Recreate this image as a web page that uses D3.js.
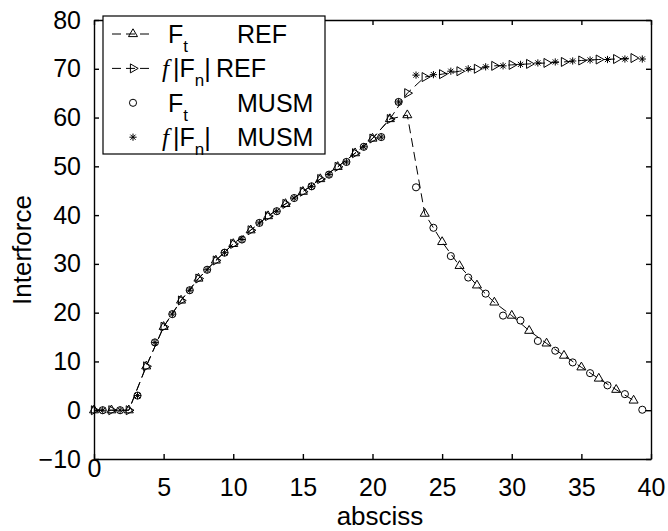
<!DOCTYPE html>
<html>
<head>
<meta charset="utf-8">
<script src="https://cdn.jsdelivr.net/npm/d3@7"></script>
<style>
body { margin: 0; background: #fff; }
text { font-family: "Liberation Sans", Arial, Helvetica, sans-serif; fill: #000; }
</style>
</head>
<body>
<script>
// REF solution (triangles, dashed line)
let refX = [0, 1.25, 2.5, 3.75, 5, 6.25, 7.5, 8.75, 10, 11.25, 12.5, 13.75, 15, 16.25, 17.5, 18.75,
    20, 21.25, 22.5, 23.75, 25, 26.25, 27.5, 28.75, 30, 31.25, 32.5, 33.75, 35, 36.25, 37.5, 38.75];
let refFt = [0, 0, 0, 9.0, 17.1, 22.5, 27.0, 30.7, 34.1, 36.9, 39.8, 42.3, 44.8, 47.4, 49.9, 52.7,
    55.7, 59.7, 60.5, 40.3, 34.5, 29.6, 25.6, 22.1, 19.4, 16.3, 13.7, 11.2, 8.8, 6.5, 4.2, 2.0];
let refFn = [0, 0, 0, 9.0, 17.1, 22.5, 27.0, 30.7, 34.1, 36.9, 39.8, 42.3, 44.8, 47.4, 49.9, 52.7,
    55.7, 59.7, 65.0, 68.3, 68.9, 69.5, 70.0, 70.6, 70.8, 71.0, 71.2, 71.4, 71.7, 71.9, 72.0, 72.2];

// MUSM solution (markers only)
let musmX = [0.625, 1.875, 3.125, 4.375, 5.625, 6.875, 8.125, 9.375, 10.625, 11.875, 13.125, 14.375,
    15.625, 16.875, 18.125, 19.375, 20.625, 21.875, 23.125, 24.375, 25.625, 26.875, 28.125, 29.375,
    30.625, 31.875, 33.125, 34.375, 35.625, 36.875, 38.125, 39.375];
let musmFt = [0, 0, 3.0, 13.9, 19.7, 24.6, 28.8, 32.3, 35.0, 38.4, 40.8, 43.5, 45.9, 48.3, 50.9, 54.0,
    56.0, 63.2, 45.7, 37.4, 31.6, 27.2, 23.9, 19.4, 18.4, 14.2, 12.2, 9.8, 7.6, 5.1, 3.3, 0.1];
let musmFn = [0, 0, 3.0, 13.9, 19.7, 24.6, 28.8, 32.3, 35.0, 38.4, 40.8, 43.5, 45.9, 48.3, 50.9, 54.0,
    56.0, 63.2, 68.7, 68.8, 69.5, 70.0, 70.4, 70.6, 70.9, 71.2, 71.4, 71.6, 71.8, 71.9, 72.0, 72.0];

let xTicks = [0, 5, 10, 15, 20, 25, 30, 35, 40];
let yTicks = [-10, 0, 10, 20, 30, 40, 50, 60, 70, 80];
let legendNames = ["F_t", "f|F_n|", "F_t", "f|F_n|"];
let legendMethods = ["REF", "REF", "MUSM", "MUSM"];

let svgContainer,
    svgWidth = 668,
    svgHeight = 531,
    plot = { left: 94, right: 651, top: 20, bottom: 459 },
    tickFont = 25,
    labelFont = 26;

let xScale = d3.scaleLinear().domain([0, 40]).range([plot.left, plot.right]);
let yScale = d3.scaleLinear().domain([-10, 80]).range([plot.bottom, plot.top]);

let triUp = d3.symbol().type(d3.symbolTriangle2).size(58);
let circ = d3.symbol().type(d3.symbolCircle).size(40);
let plus = d3.symbol().type(d3.symbolPlus).size(19);
let times = d3.symbol().type(d3.symbolTimes).size(19);

function init() {
    svgContainer = d3.select("body").append("svg")
        .attr("width", svgWidth)
        .attr("height", svgHeight);
    drawAxes();
    drawSeries(refX, refFt, true, "up");
    drawSeries(refX, refFn, true, "right");
    drawSeries(musmX, musmFt, false, "circle");
    drawSeries(musmX, musmFn, false, "star");
    drawLegend();
}

function drawAxes() {
    let bottom = svgContainer.append("g")
        .attr("class", "axis")
        .attr("transform", "translate(0," + plot.bottom + ")")
        .call(d3.axisBottom(xScale).tickValues(xTicks).tickSize(-5).tickSizeOuter(0).tickPadding(19));
    bottom.selectAll(".tick text").filter(d => d === 0).attr("y", 0);

    svgContainer.append("g")
        .attr("class", "axis")
        .attr("transform", "translate(" + plot.left + ",0)")
        .call(d3.axisLeft(yScale).tickValues(yTicks).tickSize(-5).tickSizeOuter(0).tickPadding(13));

    svgContainer.append("g")
        .attr("class", "axis")
        .attr("transform", "translate(0," + plot.top + ")")
        .call(d3.axisTop(xScale).tickValues(xTicks).tickSize(-5).tickSizeOuter(0).tickFormat(""));

    svgContainer.append("g")
        .attr("class", "axis")
        .attr("transform", "translate(" + plot.right + ",0)")
        .call(d3.axisRight(yScale).tickValues(yTicks).tickSize(-5).tickSizeOuter(0).tickFormat(""));

    svgContainer.selectAll(".axis path, .axis line")
        .attr("stroke", "#000")
        .attr("stroke-width", 1.4);
    svgContainer.selectAll(".axis text")
        .style("font-size", tickFont + "px")
        .style("font-family", "'Liberation Sans', Arial, sans-serif")
        .attr("fill", "#000");

    svgContainer.append("text")
        .attr("transform", "translate(31,250) rotate(-90)")
        .attr("text-anchor", "middle")
        .style("font-size", labelFont + "px")
        .text("Interforce");

    svgContainer.append("text")
        .attr("x", 380)
        .attr("y", 525)
        .attr("text-anchor", "middle")
        .style("font-size", labelFont + "px")
        .text("absciss");
}

function drawMarker(g, kind, px, py) {
    if (kind === "up") {
        g.append("path").attr("d", triUp())
            .attr("transform", "translate(" + px + "," + py + ")");
    } else if (kind === "right") {
        g.append("path").attr("d", triUp())
            .attr("transform", "translate(" + px + "," + py + ") rotate(90)");
    } else if (kind === "circle") {
        g.append("path").attr("d", circ())
            .attr("transform", "translate(" + px + "," + py + ")");
    } else {
        g.append("path").attr("d", plus())
            .attr("transform", "translate(" + px + "," + py + ")");
        g.append("path").attr("d", times())
            .attr("transform", "translate(" + px + "," + py + ")");
    }
}

function drawSeries(xs, ys, withLine, kind) {
    let points = xs.map((x, i) => ({ x: x, y: ys[i] }));
    let g = svgContainer.append("g")
        .attr("fill", "none")
        .attr("stroke", "#000")
        .attr("stroke-width", 1);

    if (withLine) {
        let line = d3.line().x(d => xScale(d.x)).y(d => yScale(d.y));
        g.append("path")
            .attr("d", line(points))
            .attr("stroke-dasharray", "9,5");
    }
    points.forEach(p => drawMarker(g, kind, xScale(p.x), yScale(p.y)));
}

function drawLegend() {
    let box = { x: 103, y: 16, w: 222, h: 138 };
    let kinds = ["up", "right", "circle", "star"];
    let methodX = [237, 216, 237, 237];
    let lg = svgContainer.append("g");
    lg.append("rect")
        .attr("x", box.x).attr("y", box.y)
        .attr("width", box.w).attr("height", box.h)
        .attr("fill", "#fff")
        .attr("stroke", "#000")
        .attr("stroke-width", 1.2);

    legendNames.forEach((name, i) => {
        let cy = 34 + i * 34.4;
        let mg = lg.append("g").attr("fill", "none").attr("stroke", "#000").attr("stroke-width", 1);
        if (legendMethods[i] === "REF") {
            mg.append("line")
                .attr("x1", 112).attr("x2", 150)
                .attr("y1", cy).attr("y2", cy)
                .attr("stroke-dasharray", "9,5");
        }
        drawMarker(mg, kinds[i], 133, cy);

        let t = lg.append("text")
            .attr("y", cy + 9)
            .style("font-size", tickFont + "px");
        if (name === "F_t") {
            t.attr("x", 168);
            t.append("tspan").text("F");
            t.append("tspan").attr("dy", 9).style("font-size", "17px").text("t");
        } else {
            t.attr("x", 162);
            t.append("tspan")
                .style("font-family", "'Liberation Serif', 'Times New Roman', serif")
                .style("font-style", "italic")
                .text("f");
            t.append("tspan").attr("dx", 4).text("|F");
            t.append("tspan").attr("dy", 9).style("font-size", "17px").text("n");
            t.append("tspan").attr("dy", -9).text("|");
        }
        lg.append("text")
            .attr("x", methodX[i])
            .attr("y", cy + 9)
            .style("font-size", tickFont + "px")
            .text(legendMethods[i]);
    });
}

init();
</script>
</body>
</html>
